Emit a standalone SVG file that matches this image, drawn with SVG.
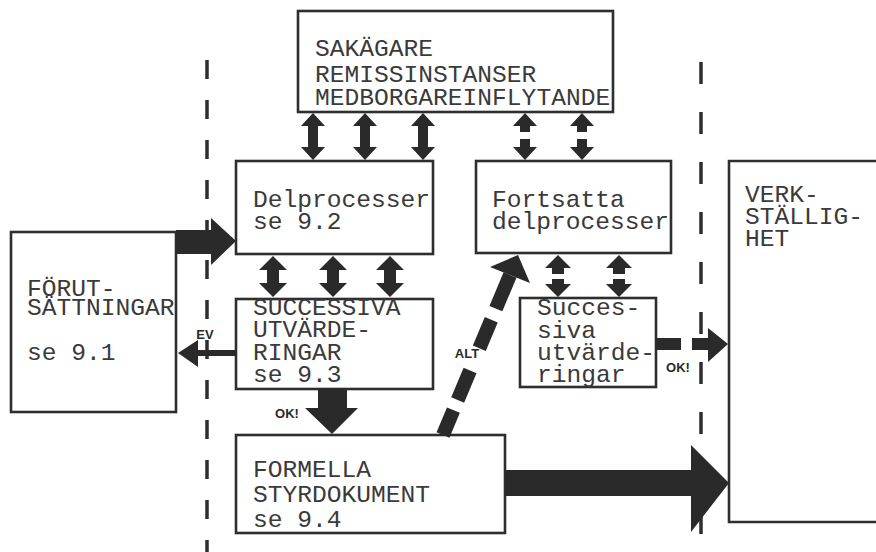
<svg xmlns="http://www.w3.org/2000/svg" width="876" height="552" viewBox="0 0 876 552">
<defs>
<style>
.box{fill:none;stroke:#2e2e2e;stroke-width:2.6}
.t{font-family:"Liberation Mono","Courier New",monospace;font-size:24.6px;fill:#3a3a3a}
.lbl{font-family:"Liberation Sans",Arial,sans-serif;font-size:13px;font-weight:bold;fill:#2a2a2a}
.ar{fill:#2a2a2a;stroke:none}
.dash{stroke:#2e2e2e;stroke-width:3.5;fill:none}
</style>
</defs>
<rect width="876" height="552" fill="#ffffff"/>

<g id="dividers">
<line class="dash" x1="207" y1="60" x2="207" y2="552" stroke-dasharray="19 21"/>
<line class="dash" x1="701" y1="62" x2="701" y2="552" stroke-dasharray="22 28"/>
</g>

<g id="sakagare">
<rect class="box" x="298" y="11" width="315" height="101"/>
<text class="t" x="315" y="56">SAKÄGARE</text>
<text class="t" x="315" y="82">REMISSINSTANSER</text>
<text class="t" x="315" y="105">MEDBORGAREINFLYTANDE</text>
</g>

<g id="delprocesser">
<rect class="box" x="236" y="161" width="197" height="93"/>
<text class="t" x="253" y="207">Delprocesser</text>
<text class="t" x="253" y="229">se 9.2</text>
</g>

<g id="fortsatta">
<rect class="box" x="476" y="161" width="195" height="92"/>
<text class="t" x="492" y="207">Fortsatta</text>
<text class="t" x="492" y="229">delprocesser</text>
</g>

<g id="forutsattningar">
<rect class="box" x="11" y="232" width="165" height="180"/>
<text class="t" x="27" y="296">FÖRUT-</text>
<text class="t" x="27" y="315">SÄTTNINGAR</text>
<text class="t" x="27" y="360">se 9.1</text>
</g>

<g id="successiva">
<rect class="box" x="236" y="299" width="197" height="90"/>
<text class="t" x="253" y="315">SUCCESSIVA</text>
<text class="t" x="253" y="337">UTVÄRDE-</text>
<text class="t" x="253" y="360">RINGAR</text>
<text class="t" x="253" y="382">se 9.3</text>
</g>

<g id="successiva2">
<rect class="box" x="520" y="298" width="136" height="89"/>
<text class="t" x="537" y="315">Succes-</text>
<text class="t" x="537" y="338">siva</text>
<text class="t" x="537" y="360">utvärde-</text>
<text class="t" x="537" y="382">ringar</text>
</g>

<g id="formella">
<rect class="box" x="236" y="435" width="269" height="98"/>
<text class="t" x="253" y="477">FORMELLA</text>
<text class="t" x="253" y="502">STYRDOKUMENT</text>
<text class="t" x="253" y="527">se 9.4</text>
</g>

<g id="verkstallighet">
<path class="box" d="M880,161 H729 V522 H880"/>
<text class="t" x="745" y="202">VERK-</text>
<text class="t" x="745" y="224">STÄLLIG-</text>
<text class="t" x="745" y="246">HET</text>
</g>

<g id="connectors">
<polygon class="ar" points="313,113 325,126 318,126 318,147 325,147 313,160 301,147 308,147 308,126 301,126"/>
<polygon class="ar" points="365,113 377,126 370,126 370,147 377,147 365,160 353,147 360,147 360,126 353,126"/>
<polygon class="ar" points="423,113 435,126 428,126 428,147 435,147 423,160 411,147 418,147 418,126 411,126"/>
<polygon class="ar" points="525,113 537,126 530,126 530,132 520,132 520,126 513,126"/>
<polygon class="ar" points="520,139 530,139 530,147 537,147 525,160 513,147 520,147"/>
<polygon class="ar" points="582,113 594,126 587,126 587,132 577,132 577,126 570,126"/>
<polygon class="ar" points="577,139 587,139 587,147 594,147 582,160 570,147 577,147"/>
<polygon class="ar" points="273,256 287,270 279,270 279,283 287,283 273,297 259,283 267,283 267,270 259,270"/>
<polygon class="ar" points="333,256 347,270 339,270 339,283 347,283 333,297 319,283 327,283 327,270 319,270"/>
<polygon class="ar" points="390,256 404,270 396,270 396,283 404,283 390,297 376,283 384,283 384,270 376,270"/>
<polygon class="ar" points="558,255 571,268 564,268 564,274 552,274 552,268 545,268"/>
<polygon class="ar" points="552,279 564,279 564,284 571,284 558,297 545,284 552,284"/>
<polygon class="ar" points="619,255 632,268 625,268 625,274 613,274 613,268 606,268"/>
<polygon class="ar" points="613,279 625,279 625,284 632,284 619,297 606,284 613,284"/>
<polygon class="ar" points="176,230 211,230 211,218 236,241 211,265 211,254 176,254"/>
<polygon class="ar" points="236,350 198,350 198,340 178,353 198,367 198,356 236,356"/>
<text class="lbl" x="205" y="339" text-anchor="middle">EV</text>
<polygon class="ar" points="318,389 347,389 347,408 358,408 332,434 305,408 318,408"/>
<text class="lbl" x="287" y="418" text-anchor="middle">OK!</text>
<polygon class="ar" points="505,470 691,470 691,445 729,483 691,532 691,496 505,496"/>
<rect class="ar" x="656" y="338" width="25" height="12"/>
<polygon class="ar" points="692,338 708,338 708,328 728,344 708,362 708,350 692,350"/>
<text class="lbl" x="678" y="372" text-anchor="middle">OK!</text>
<path d="M443,435 L510,275" stroke="#2a2a2a" stroke-width="14" fill="none" stroke-dasharray="27 11 32 24 31 12 40"/>
<polygon class="ar" points="518,255 530,283 490,267"/>
<text class="lbl" x="467" y="358" text-anchor="middle">ALT</text>
</g>
</svg>
